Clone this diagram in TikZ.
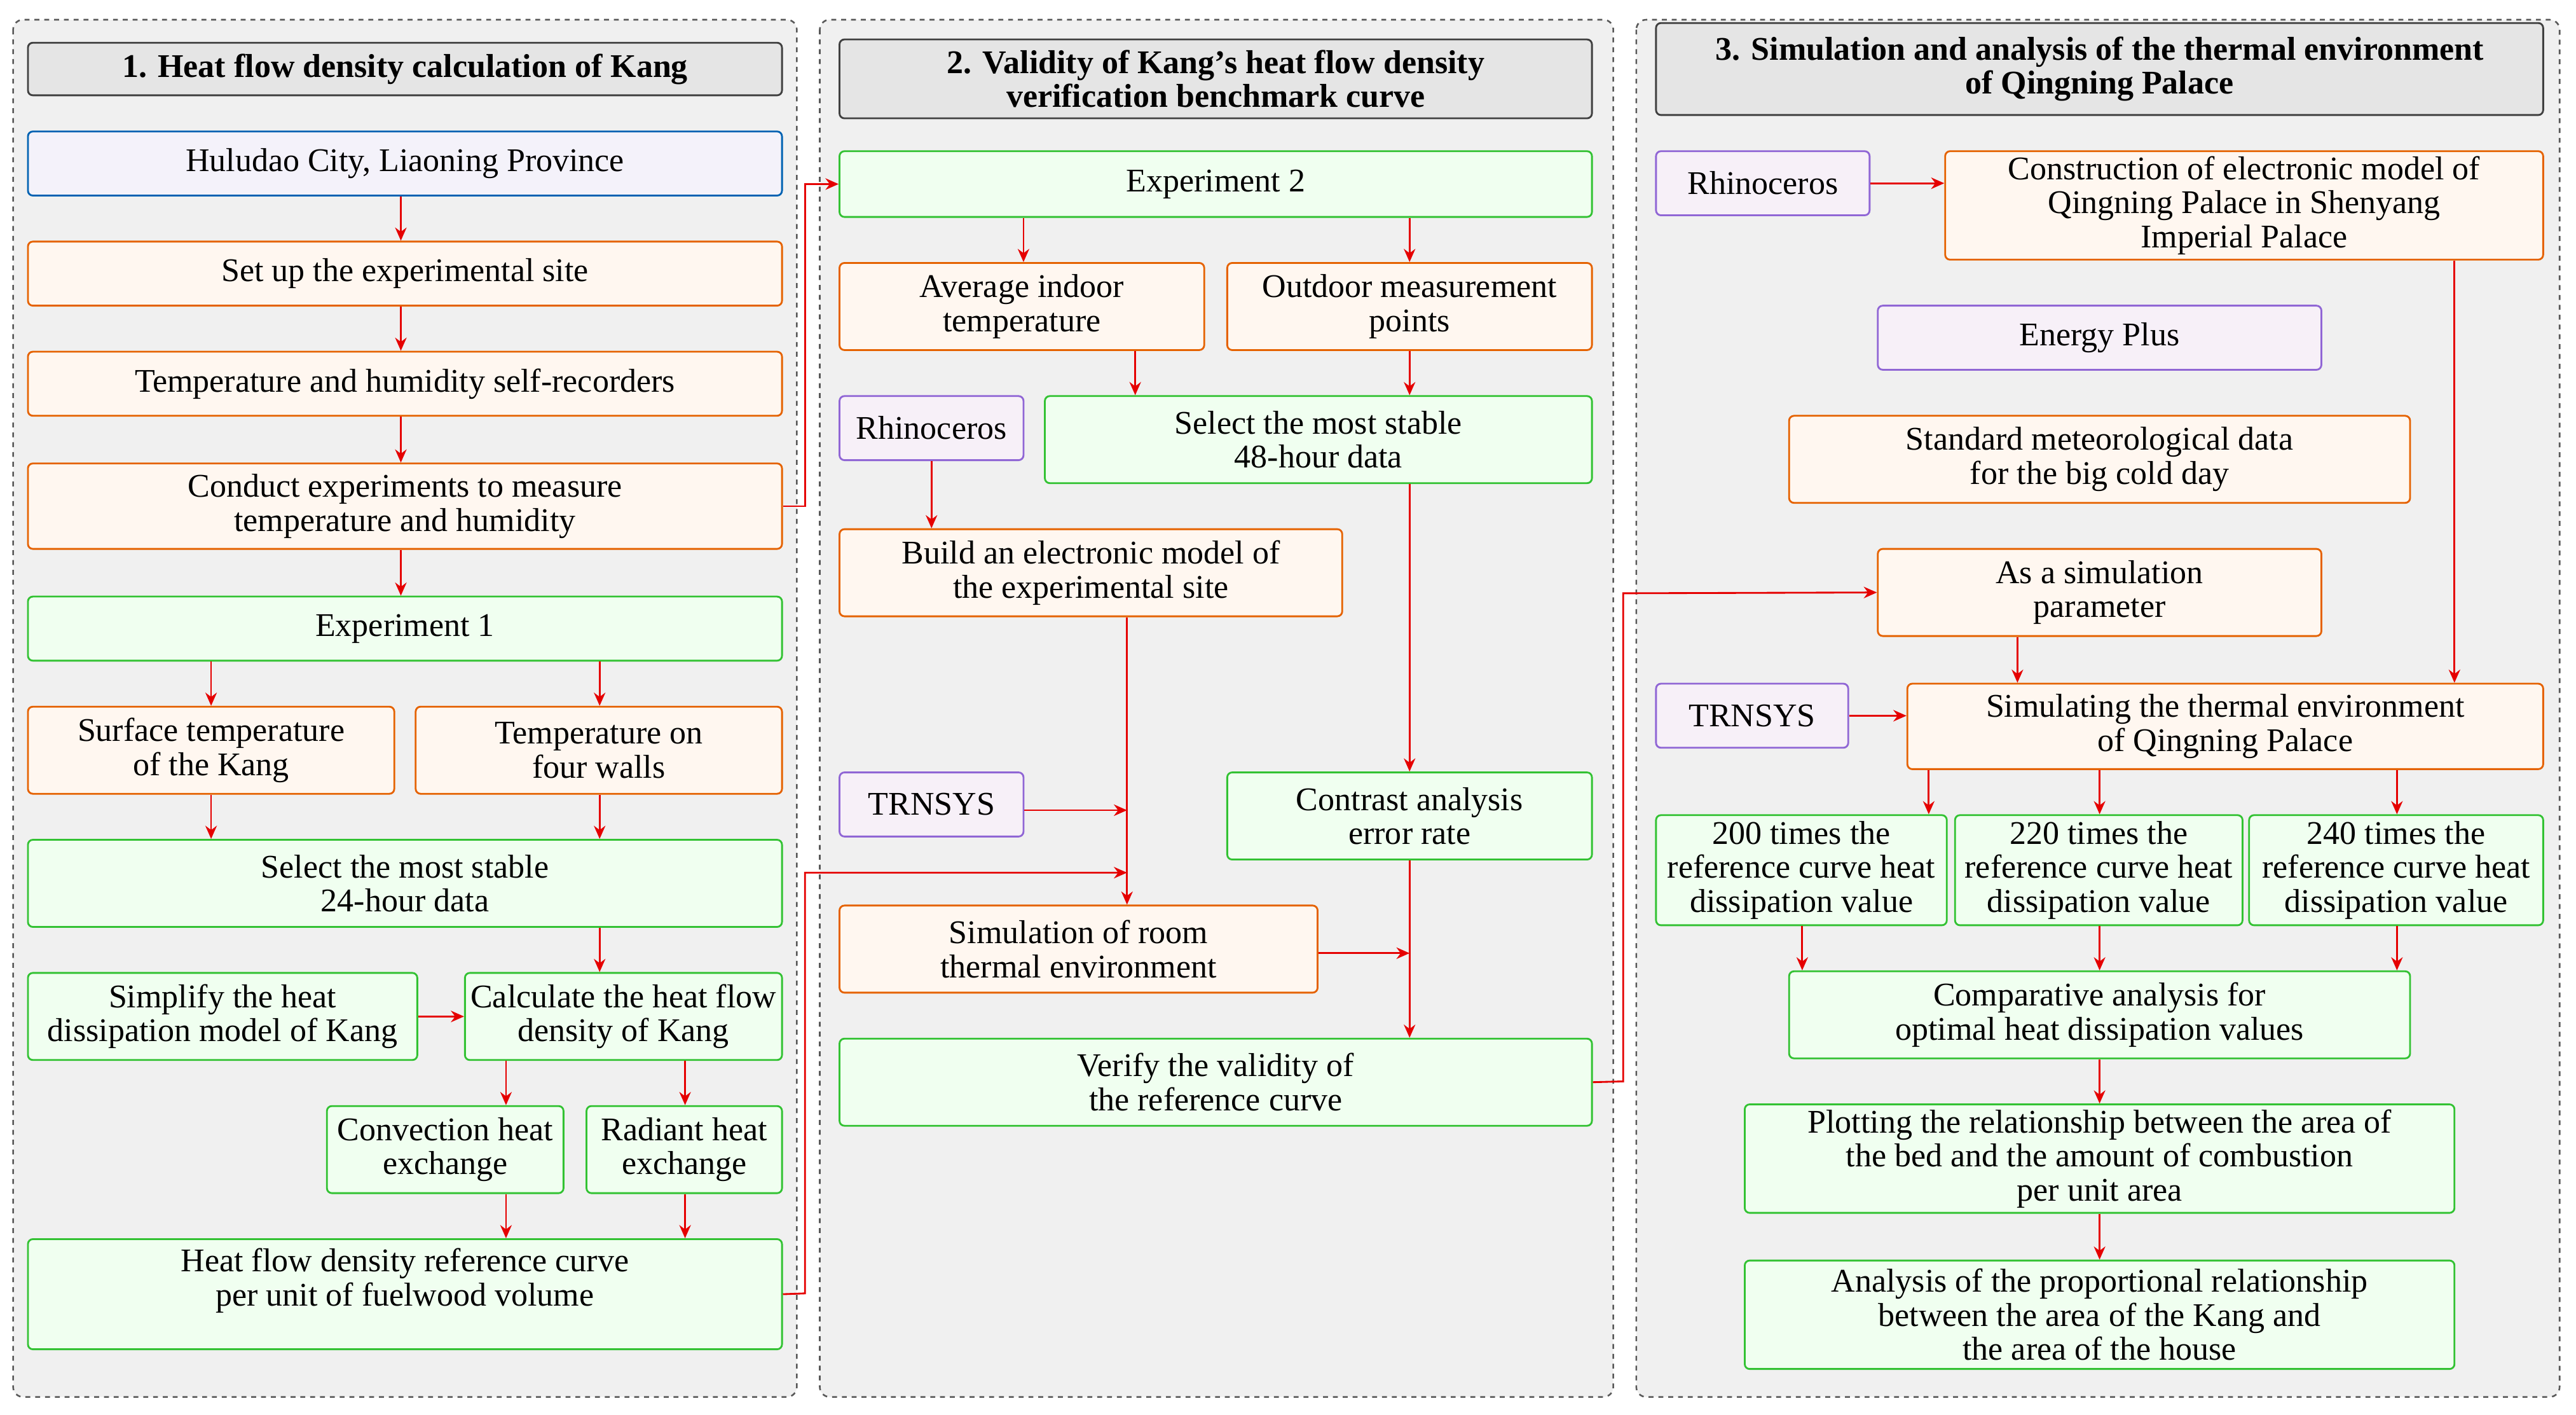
\documentclass[tikz,border=0pt]{standalone}
\usepackage{fontspec}
\setmainfont{Liberation Serif}
\usetikzlibrary{arrows.meta}
\begin{document}
\begin{tikzpicture}[x=1bp,y=-1bp,
 base/.style={draw,rounded corners=3bp,line width=1.1bp,align=center,inner sep=0pt,font=\rmfamily\fontsize{20.2}{20.8}\selectfont},
 org/.style={base,draw=orange!85!red!90!black,fill=orange!6},
 grn/.style={base,draw=green!70!black!80,fill=green!6},
 pur/.style={base,draw=blue!45!violet!60,fill=blue!3!violet!6},
 blu/.style={base,draw=blue!45!cyan!70!black,fill=cyan!5!blue!4},
 ttl/.style={base,draw=black!75,fill=black!10,font=\rmfamily\bfseries\fontsize{20.2}{20.8}\selectfont},
 panel/.style={draw=black!65,dashed,rounded corners=6bp,fill=black!6,line width=1bp},
 arr/.style={-{Stealth[length=8bp,width=7bp]},red!90!black,line width=1.1bp}]
\newcommand\bx[7]{\node[#6,minimum width={(#4-#2)*1bp},minimum height={(#5-#3)*1bp}] (#1) at ({(#2+#4)/2},{(#3+#5)/2}) {#7};}
\useasboundingbox (0,0) rectangle (1568,861);
\draw[panel] (8,12) rectangle (485,850);
\draw[panel] (499,12) rectangle (982,850);
\draw[panel] (996,12) rectangle (1558,850);
\bx{t1}{17}{26}{476}{58}{ttl}{1. Heat flow density calculation of Kang}
\bx{t2}{511}{24}{969}{72}{ttl}{2. Validity of Kang's heat flow density\\verification benchmark curve}
\bx{t3}{1008}{14}{1548}{70}{ttl}{3. Simulation and analysis of the thermal environment\\of Qingning Palace}
% panel 1
\bx{hulu}{17}{80}{476}{119}{blu}{Huludao City, Liaoning Province}
\bx{setup}{17}{147}{476}{186}{org}{Set up the experimental site}
\bx{temp}{17}{214}{476}{253}{org}{Temperature and humidity self-recorders}
\bx{conduct}{17}{282}{476}{334}{org}{Conduct experiments to measure\\temperature and humidity}
\bx{exp1}{17}{363}{476}{402}{grn}{Experiment 1}
\bx{surf}{17}{430}{240}{483}{org}{Surface temperature\\of the Kang}
\bx{walls}{253}{430}{476}{483}{org}{Temperature on\\four walls}
\bx{sel24}{17}{511}{476}{564}{grn}{Select the most stable\\24-hour data}
\bx{simp}{17}{592}{254}{645}{grn}{Simplify the heat\\dissipation model of Kang}
\bx{calc}{283}{592}{476}{645}{grn}{Calculate the heat flow\\density of Kang}
\bx{conv}{199}{673}{343}{726}{grn}{Convection heat\\exchange}
\bx{rad}{357}{673}{476}{726}{grn}{Radiant heat\\exchange}
\bx{heat}{17}{754}{476}{821}{grn}{Heat flow density reference curve\\per unit of fuelwood volume\\ \mbox{}}
% panel 2
\bx{exp2}{511}{92}{969}{132}{grn}{Experiment 2}
\bx{avg}{511}{160}{733}{213}{org}{Average indoor\\temperature}
\bx{out}{747}{160}{969}{213}{org}{Outdoor measurement\\points}
\bx{rh1}{511}{241}{623}{280}{pur}{Rhinoceros}
\bx{sel48}{636}{241}{969}{294}{grn}{Select the most stable\\48-hour data}
\bx{build}{511}{322}{817}{375}{org}{Build an electronic model of\\the experimental site}
\bx{tr1}{511}{470}{623}{509}{pur}{TRNSYS}
\bx{contr}{747}{470}{969}{523}{grn}{Contrast analysis\\error rate}
\bx{sim}{511}{551}{802}{604}{org}{Simulation of room\\thermal environment}
\bx{ver}{511}{632}{969}{685}{grn}{Verify the validity of\\the reference curve}
% panel 3
\bx{rh2}{1008}{92}{1138}{131}{pur}{Rhinoceros}
\bx{cons}{1184}{92}{1548}{158}{org}{Construction of electronic model of\\Qingning Palace in Shenyang\\Imperial Palace}
\bx{ep}{1143}{186}{1413}{225}{pur}{Energy Plus}
\bx{std}{1089}{253}{1467}{306}{org}{Standard meteorological data\\for the big cold day}
\bx{asim}{1143}{334}{1413}{387}{org}{As a simulation\\parameter}
\bx{tr2}{1008}{416}{1125}{455}{pur}{TRNSYS}
\bx{simq}{1161}{416}{1548}{468}{org}{Simulating the thermal environment\\of Qingning Palace}
\bx{a}{1008}{496}{1185}{563}{grn}{200 times the\\reference curve heat\\dissipation value}
\bx{b}{1190}{496}{1365}{563}{grn}{220 times the\\reference curve heat\\dissipation value}
\bx{c}{1369}{496}{1548}{563}{grn}{240 times the\\reference curve heat\\dissipation value}
\bx{comp}{1089}{591}{1467}{644}{grn}{Comparative analysis for\\optimal heat dissipation values}
\bx{plot}{1062}{672}{1494}{738}{grn}{Plotting the relationship between the area of\\the bed and the amount of combustion\\per unit area}
\bx{anal}{1062}{767}{1494}{833}{grn}{Analysis of the proportional relationship\\between the area of the Kang and\\the area of the house}
% arrows panel 1
\draw[arr] (hulu.south-|244,0) -- (setup.north-|244,0);
\draw[arr] (setup.south-|244,0) -- (temp.north-|244,0);
\draw[arr] (temp.south-|244,0) -- (conduct.north-|244,0);
\draw[arr] (conduct.south-|244,0) -- (exp1.north-|244,0);
\draw[arr] (exp1.south-|surf) -- (surf.north);
\draw[arr] (exp1.south-|365,0) -- (walls.north-|365,0);
\draw[arr] (surf.south) -- (sel24.north-|surf);
\draw[arr] (walls.south-|365,0) -- (sel24.north-|365,0);
\draw[arr] (sel24.south-|365,0) -- (calc.north-|365,0);
\draw[arr] (simp) -- (calc);
\draw[arr] (calc.south-|308,0) -- (conv.north-|308,0);
\draw[arr] (calc.south-|417,0) -- (rad.north-|417,0);
\draw[arr] (conv.south-|308,0) -- (heat.north-|308,0);
\draw[arr] (rad.south-|417,0) -- (heat.north-|417,0);
\draw[arr] (conduct.east) -- (490,308) -- (490,112) -- (exp2.west);
\coordinate (j1) at (686,531);
\draw[arr] (heat.east) -- (490,787) -- (490,531) -- (j1);
% arrows panel 2
\draw[arr] (exp2.south-|623,0) -- (avg.north-|623,0);
\draw[arr] (exp2.south-|858,0) -- (out.north-|858,0);
\draw[arr] (avg.south-|691,0) -- (sel48.north-|691,0);
\draw[arr] (out.south-|858,0) -- (sel48.north-|858,0);
\draw[arr] (rh1.south-|567,0) -- (build.north-|567,0);
\draw[arr] (sel48.south-|858,0) -- (contr.north-|858,0);
\draw[arr] (build.south-|686,0) -- (sim.north-|686,0);
\coordinate (j2) at (686,493);
\draw[arr] (tr1.east|-j2) -- (j2);
\coordinate (j3) at (858,580);
\draw[arr] (sim.east|-j3) -- (j3);
\draw[arr] (contr.south-|858,0) -- (ver.north-|858,0);
\draw[arr] (ver.east) -- (988,658) -- (988,361) -- (asim.west);
% arrows panel 3
\draw[arr] (rh2.east) -- (cons.west|-rh2.east);
\draw[arr] (cons.south-|1494,0) -- (simq.north-|1494,0);
\draw[arr] (asim.south-|1228,0) -- (simq.north-|1228,0);
\draw[arr] (tr2.east) -- (simq.west|-tr2.east);
\draw[arr] (simq.south-|1174,0) -- (a.north-|1174,0);
\draw[arr] (simq.south-|1278,0) -- (b.north-|1278,0);
\draw[arr] (simq.south-|1459,0) -- (c.north-|1459,0);
\draw[arr] (a.south-|1097,0) -- (comp.north-|1097,0);
\draw[arr] (b.south-|1278,0) -- (comp.north-|1278,0);
\draw[arr] (c.south-|1459,0) -- (comp.north-|1459,0);
\draw[arr] (comp.south-|1278,0) -- (plot.north-|1278,0);
\draw[arr] (plot.south-|1278,0) -- (anal.north-|1278,0);
\end{tikzpicture}
\end{document}
